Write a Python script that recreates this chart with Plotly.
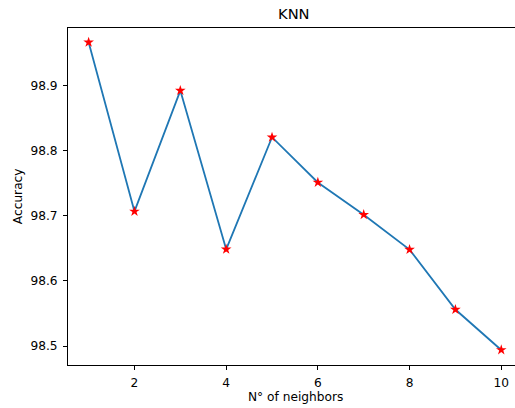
import plotly.graph_objects as go

neighbors = [1, 2, 3, 4, 5, 6, 7, 8, 9, 10]
accuracy = [98.966, 98.7066, 98.892, 98.6484, 98.8204, 98.751, 98.7015, 98.648, 98.556, 98.494]
x_ticks = [2, 4, 6, 8, 10]
y_ticks = [98.5, 98.6, 98.7, 98.8, 98.9]

W, H = 515, 408
L, T = 67.7, 27.5
B = 42.7
plot_w = W - L
plot_h = H - T - B

fig = go.Figure()
fig.add_trace(go.Scatter(
    x=neighbors, y=accuracy, mode="lines",
    line=dict(color="#1f77b4", width=1.8),
    showlegend=False, hoverinfo="skip"))
fig.add_trace(go.Scatter(
    x=neighbors, y=accuracy, mode="markers",
    marker=dict(symbol="star", color="red", size=8, line=dict(width=0)),
    showlegend=False))

font = dict(family="DejaVu Sans", size=12.2, color="black")

fig.update_layout(
    width=W, height=H,
    margin=dict(l=L, r=0, t=T, b=B, pad=0),
    paper_bgcolor="white", plot_bgcolor="white",
    font=font,
    xaxis=dict(range=[0.55, 10.30], tickvals=x_ticks, ticktext=[str(v) for v in x_ticks],
               showgrid=False, zeroline=False, showline=True, linecolor="black", linewidth=1,
               mirror=True, ticks="outside", ticklen=4, tickcolor="black", tickwidth=1,
               ticklabelstandoff=2, tickfont=font),
    yaxis=dict(range=[98.4709, 98.988], tickvals=y_ticks, ticktext=[f"{v:.1f}" for v in y_ticks],
               showgrid=False, zeroline=False, showline=True, linecolor="black", linewidth=1,
               mirror=False, ticks="outside", ticklen=4, tickcolor="black", tickwidth=1,
               ticklabelstandoff=3, tickfont=font),
    annotations=[
        dict(text="KNN", xref="paper", yref="paper", x=(293.5 - L) / plot_w,
             y=(H - B - 13) / plot_h,
             xanchor="center", yanchor="middle", showarrow=False,
             font=dict(family="DejaVu Sans", size=14.7, color="black")),
        dict(text="N° of neighbors", xref="paper", yref="paper", x=(295.5 - L) / plot_w,
             y=(H - B - 397) / plot_h, xanchor="center", yanchor="middle",
             showarrow=False, font=font),
        dict(text="Accuracy", xref="paper", yref="paper", x=(17.3 - L) / plot_w, y=0.5,
             xanchor="center", yanchor="middle", textangle=-90, showarrow=False, font=font),
    ],
)

fig.write_html("out.html", config={"displayModeBar": False},
               post_script="document.body.style.margin='0px';")
